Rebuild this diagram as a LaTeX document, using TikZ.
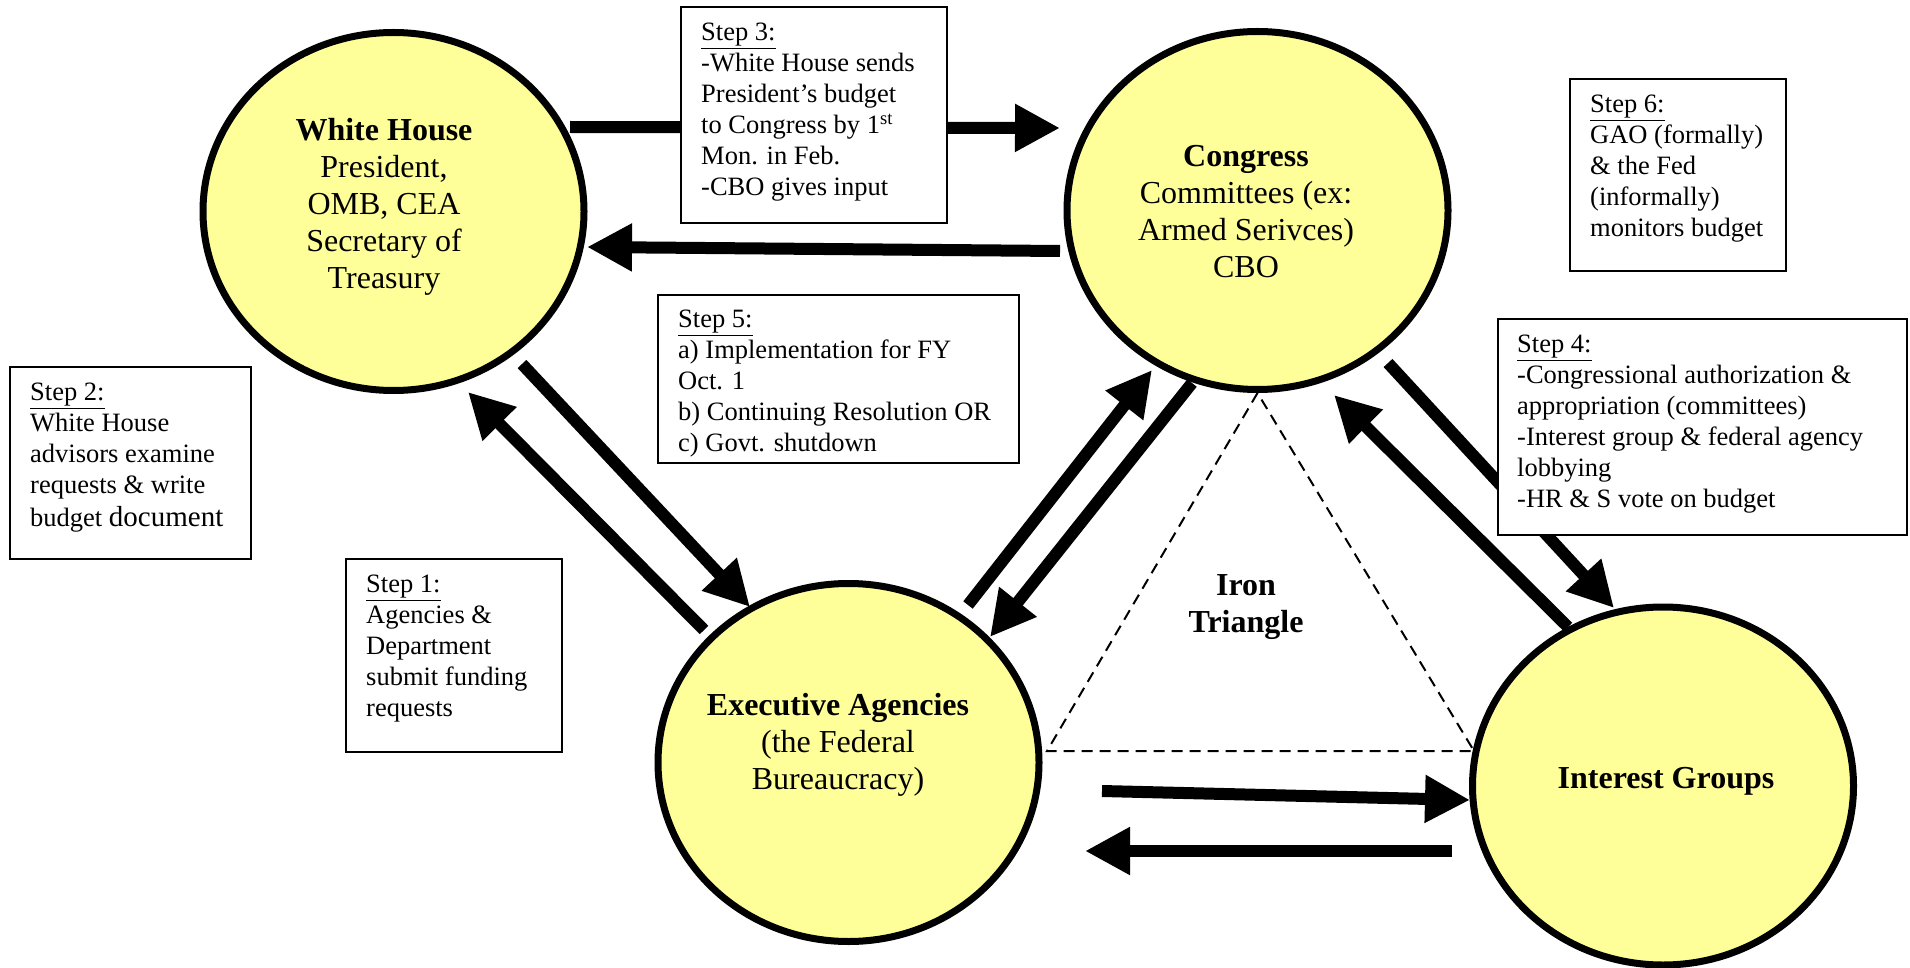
\documentclass[tikz,border=0pt]{standalone}
\usepackage{fontspec}
\setmainfont{Liberation Serif}
\usetikzlibrary{shapes.geometric,arrows.meta}
\definecolor{agyellow}{RGB}{255,255,153}
\begin{document}
\begin{tikzpicture}[x=1pt,y=-1pt,
  actor/.style={ellipse,draw=black,line width=7pt,fill=agyellow,minimum width=381pt,minimum height=358pt,inner sep=0pt},
  actortext/.style={align=center,font=\fontsize{32}{37}\selectfont,inner sep=0pt},
  stepbox/.style={draw=black,line width=2pt,fill=white,inner sep=0pt},
  steptext/.style={align=left,anchor=north west,font=\fontsize{26.5}{31}\selectfont,inner sep=0pt},
  bigarrow/.style={line width=12pt,-{Triangle[length=45pt,width=45pt]}},
  irontri/.style={dash pattern=on 11pt off 7pt,line width=2pt}
]
\fill[white] (0,0) rectangle (1910,968);
\useasboundingbox (0,0) rectangle (1910,968);

% actors
\node[actor] (wh) at (393.5,211.5) {};
\node[actor] (cg) at (1257.5,210.5) {};
\node[actor] (ea) at (848.5,762.5) {};
\node[actor] (ig) at (1663,786) {};

\node[actortext] (wht) at (384,207) {\textbf{White House}\\President,\\OMB, CEA\\Secretary of\\Treasury};
\node[actortext] (cgt) at (1246,212) {\textbf{Congress}\\Committees (ex:\\Armed Serivces)\\CBO};
\node[actortext] (eat) at (838,745) {\textbf{Executive Agencies}\\(the Federal\\Bureaucracy)};
\node[actortext] (igt) at (1666,781) {\textbf{Interest Groups}};

% iron triangle
\coordinate (trL) at (1047,751);
\coordinate (trR) at (1474,751);
\draw[irontri] (cg.south) -- (trL) -- (trR) -- cycle;
\node[actortext] (iron) at (1246,607) {\textbf{Iron}\\\textbf{Triangle}};

% arrow end points
\coordinate (a1s) at (570,127);  \coordinate (a1e) at (1060,128);
\coordinate (a2s) at (1060,251); \coordinate (a2e) at (587,247);
\coordinate (a3s) at (522,364);  \coordinate (a3e) at (750,607);
\coordinate (a4s) at (704,630);  \coordinate (a4e) at (468,392);
\coordinate (a5s) at (968,605);  \coordinate (a5e) at (1152,370);
\coordinate (a6s) at (1192,383); \coordinate (a6e) at (990,637);
\coordinate (a7s) at (1568,627); \coordinate (a7e) at (1334,395);
\coordinate (a8s) at (1388,363); \coordinate (a8e) at (1614,608);
\coordinate (a9s) at (1102,791); \coordinate (a9e) at (1470,800);
\coordinate (a10s) at (1452,851); \coordinate (a10e) at (1085,851);

\draw[bigarrow] (a1s) -- (a1e);
\draw[bigarrow] (a2s) -- (a2e);
\draw[bigarrow] (a3s) -- (a3e);
\draw[bigarrow] (a4s) -- (a4e);
\draw[bigarrow] (a5s) -- (a5e);
\draw[bigarrow] (a6s) -- (a6e);
\draw[bigarrow] (a7s) -- (a7e);
\draw[bigarrow] (a8s) -- (a8e);
\draw[bigarrow] (a9s) -- (a9e);
\draw[bigarrow] (a10s) -- (a10e);

% step boxes
\node[stepbox,minimum width=266pt,minimum height=216pt] (s3) at (814,115) {};
\node[steptext] (s3t) at ([xshift=21pt,yshift=-17pt]s3.north west) {\underline{Step 3:}\\-White House sends\\President’s budget\\to Congress by 1\textsuperscript{st}\\Mon. in Feb.\\-CBO gives input};

\node[stepbox,minimum width=361pt,minimum height=168pt] (s5) at (838.5,379) {};
\node[steptext] (s5t) at ([xshift=21pt,yshift=-16pt]s5.north west) {\underline{Step 5:}\\a) Implementation for FY\\Oct. 1\\b) Continuing Resolution OR\\c) Govt. shutdown};

\node[stepbox,minimum width=241pt,minimum height=192pt] (s2) at (130.5,463) {};
\node[steptext] (s2t) at ([xshift=21pt,yshift=-17pt]s2.north west) {\underline{Step 2:}\\White House\\advisors examine\\requests \& write\\[2pt]budget {\fontsize{29}{31}\selectfont document}};

\node[stepbox,minimum width=216pt,minimum height=193pt] (s1) at (454,655.5) {};
\node[steptext] (s1t) at ([xshift=21pt,yshift=-17pt]s1.north west) {\underline{Step 1:}\\Agencies \&\\Department\\submit funding\\requests};

\node[stepbox,minimum width=216pt,minimum height=192pt] (s6) at (1678,175) {};
\node[steptext] (s6t) at ([xshift=21pt,yshift=-17pt]s6.north west) {\underline{Step 6:}\\GAO (formally)\\\& the Fed\\(informally)\\monitors budget};

\node[stepbox,minimum width=409pt,minimum height=216pt] (s4) at (1702.5,427) {};
\node[steptext] (s4t) at ([xshift=20pt,yshift=-17pt]s4.north west) {\underline{Step 4:}\\-Congressional authorization \&\\appropriation (committees)\\-Interest group \& federal agency\\lobbying\\-HR \& S vote on budget};
\end{tikzpicture}
\end{document}
